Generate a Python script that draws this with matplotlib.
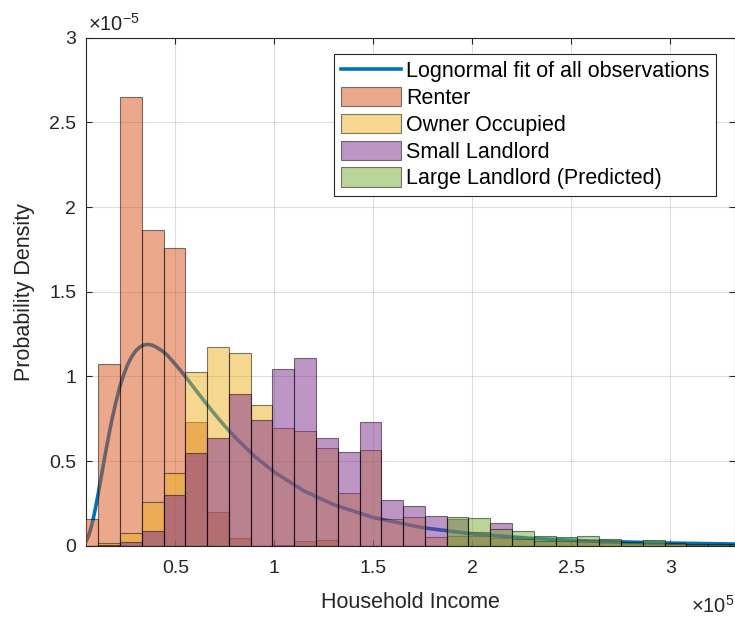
import numpy as np
import matplotlib.pyplot as plt
from matplotlib.ticker import FuncFormatter

plt.rcParams['font.family'] = ['Liberation Sans', 'DejaVu Sans']

# bin edges (dollars), shared by all four histograms
bin_width = 11000
edges = np.arange(0, 31 * bin_width + 1, bin_width)

# probability density per bin, in units of 1e-5
renter = [0.156, 1.074, 2.647, 1.862, 1.756, 0.728, 0.197, 0.044, 0.0, 0.004,
          0.028, 0.034, 0, 0, 0, 0, 0, 0, 0, 0,
          0, 0, 0, 0, 0, 0, 0, 0, 0, 0, 0]
owner = [0.0, 0.014, 0.073, 0.26, 0.427, 1.024, 1.175, 1.136, 0.829, 0.697,
         0.675, 0.575, 0.313, 0.567, 0.16, 0.167, 0.053, 0.06, 0.06, 0.044,
         0.038, 0.03, 0.025, 0.02, 0.015, 0.012, 0.01, 0.008, 0.006, 0.005, 0.005]
small_ll = [0.0, 0.005, 0.02, 0.085, 0.297, 0.545, 0.634, 0.896, 0.744, 1.043,
            1.108, 0.634, 0.551, 0.732, 0.27, 0.236, 0.177, 0.16, 0.08, 0.132,
            0.04, 0.03, 0.03, 0.035, 0.025, 0.015, 0.015, 0.008, 0.006, 0.005, 0.005]
large_ll = [0, 0, 0, 0, 0, 0, 0, 0, 0, 0,
            0, 0, 0, 0, 0, 0, 0, 0.171, 0.162, 0.097,
            0.087, 0.057, 0.049, 0.06, 0.042, 0.022, 0.033, 0.017, 0.012, 0.01, 0.01]

# lognormal fit curve
fit_x = [4850, 6000, 7000, 8000, 9000, 10000, 11000, 12000, 13500, 15000,
         16500, 18000, 20000, 22000, 24000, 26000, 28000, 30000, 32000, 34000,
         36000, 38000, 40000, 43000, 46000, 50000, 55000, 60000, 65000, 70000,
         75000, 80000, 90000, 100000, 115000, 130000, 150000, 175000, 200000,
         230000, 260000, 300000, 332600]
fit_y = [0.025, 0.054, 0.090, 0.134, 0.186, 0.244, 0.306, 0.372, 0.470, 0.568,
         0.660, 0.748, 0.850, 0.941, 1.013, 1.073, 1.118, 1.151, 1.173, 1.185,
         1.189, 1.185, 1.175, 1.153, 1.124, 1.071, 1.000, 0.923, 0.848, 0.775,
         0.706, 0.642, 0.528, 0.434, 0.323, 0.242, 0.166, 0.106, 0.070,
         0.043, 0.027, 0.0155, 0.0098]

names = ['Renter', 'Owner Occupied', 'Small Landlord', 'Large Landlord (Predicted)']
series = [renter, owner, small_ll, large_ll]
colors = [(0.85, 0.325, 0.098), (0.929, 0.694, 0.125),
          (0.494, 0.184, 0.556), (0.466, 0.674, 0.188)]
axcol = '#262626'

fig = plt.figure(figsize=(7.35, 6.18), dpi=100)
ax = fig.add_axes([86 / 735, 1 - 545.7 / 618, 649 / 735, 508 / 618])

ax.plot(fit_x, fit_y, color=(0, 0.447, 0.741), lw=2.6, zorder=2,
        solid_joinstyle='round', label='Lognormal fit of all observations')
for vals, name, c in zip(series, names, colors):
    ax.bar(edges[:-1], vals, width=bin_width, align='edge',
           facecolor=c + (0.5,), edgecolor=(0, 0, 0, 0.5), linewidth=0.8,
           zorder=3, label=name)

ax.set_xlim(4850, 332600)
ax.set_ylim(0, 3)
ax.set_xticks([50000, 100000, 150000, 200000, 250000, 300000])
ax.set_yticks([0, 0.5, 1, 1.5, 2, 2.5, 3])
ax.xaxis.set_major_formatter(FuncFormatter(lambda v, p: '%g' % (v / 1e5)))
ax.yaxis.set_major_formatter(FuncFormatter(lambda v, p: '%g' % v))

ax.grid(True, color=axcol, alpha=0.15, linewidth=0.8)
ax.set_axisbelow(True)
for s in ax.spines.values():
    s.set_color(axcol)
    s.set_linewidth(0.8)
ax.tick_params(direction='in', length=4, width=0.8, top=True, right=True,
               labelsize=14, colors=axcol, labelcolor=axcol)
ax.tick_params(axis='x', pad=10)
ax.tick_params(axis='y', pad=7)

ax.set_xlabel('Household Income', fontsize=15.5, color=axcol, labelpad=11)
ax.set_ylabel('Probability Density', fontsize=15.5, color=axcol, labelpad=10)

fig.text(88 / 735, 1 - 31 / 618, '×10$^{\\mathregular{-5}}$', fontsize=14.5,
         color=axcol, ha='left', va='baseline')
fig.text(1.0, 1 - 613 / 618, '×10$^{\\mathregular{5}}$', fontsize=14.5,
         color=axcol, ha='right', va='baseline')

leg = ax.legend(loc='upper right', bbox_to_anchor=(716 / 735, 1 - 54 / 618),
                bbox_transform=fig.transFigure, fontsize=15.5, borderaxespad=0,
                borderpad=0.3, labelspacing=0.22, handlelength=2.8,
                handleheight=1.0, handletextpad=0.25, fancybox=False,
                framealpha=1, edgecolor=axcol)
leg.get_frame().set_linewidth(0.8)

fig.savefig('out.png', dpi=100)
